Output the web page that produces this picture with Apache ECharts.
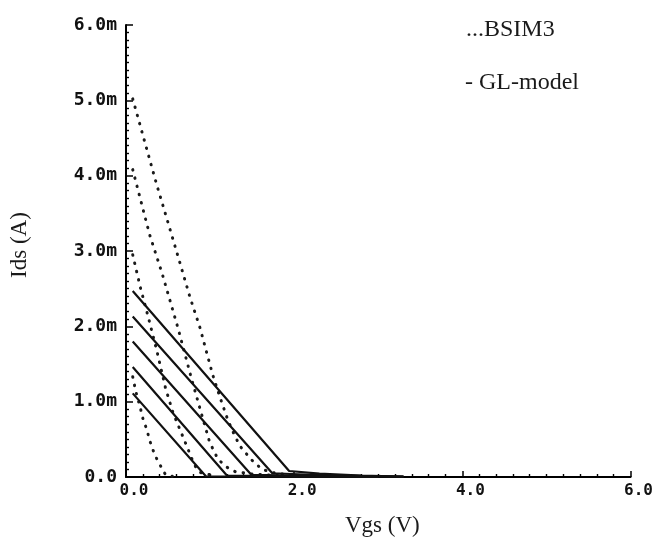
<!DOCTYPE html>
<html><head><meta charset="utf-8">
<script src="https://cdn.jsdelivr.net/npm/echarts@6/dist/echarts.min.js"></script>
<style>html,body{margin:0;padding:0;background:#fff}#c{width:656px;height:544px}</style>
</head><body><div id="c"></div>
<script>
// Vgs (V) vs Ids (mA)
const xAxisTicks = [0, 2, 4, 6];
const yAxisTicks = [0, 1, 2, 3, 4, 5, 6];
const legendLabels = ['...BSIM3', '- GL-model'];

// BSIM3 (dotted)
const bsim3A = [[0.08,5.02],[0.36,3.9],[0.56,3.15],[0.76,2.39],[0.88,1.98],[1.03,1.36],[1.12,1.05],[1.21,0.76],[1.30,0.53],[1.37,0.39],[1.49,0.23],[1.62,0.10],[1.78,0.05],[2.0,0.02]];
const bsim3B = [[0.08,4.08],[0.28,3.22],[0.43,2.70],[0.62,1.97],[0.78,1.30],[0.92,0.75],[0.99,0.48],[1.05,0.33],[1.10,0.23],[1.20,0.13],[1.30,0.07],[1.50,0.04],[1.8,0.02]];
const bsim3C = [[0.08,2.95],[0.17,2.52],[0.27,2.10],[0.37,1.66],[0.47,1.18],[0.56,0.85],[0.66,0.58],[0.73,0.39],[0.78,0.25],[0.83,0.13],[0.88,0.06],[1.0,0.03]];
const bsim3D = [[0.08,1.33],[0.12,1.12],[0.17,0.92],[0.20,0.78],[0.25,0.62],[0.28,0.49],[0.32,0.36],[0.37,0.23],[0.43,0.11],[0.47,0.03],[0.55,0.01]];

// GL-model (solid)
const glA = [[0.08,2.47],[1.94,0.08],[2.3,0.045],[2.8,0.02],[3.3,0.005]];
const glB = [[0.08,2.13],[1.74,0.05],[2.2,0.03],[2.8,0.015],[3.3,0.005]];
const glC = [[0.08,1.80],[1.49,0.03],[2.0,0.02],[2.8,0.01],[3.3,0.003]];
const glD = [[0.08,1.46],[1.20,0.02],[2.0,0.01],[3.0,0.003]];
const glE = [[0.08,1.11],[0.95,0.01],[2.0,0.005],[3.0,0.002]];

const bsim3Series = [bsim3A, bsim3B, bsim3C, bsim3D];
const glSeries = [glA, glB, glC, glD, glE];

const chart = echarts.init(document.getElementById('c'), null, {renderer: 'canvas'});
const series = [];
bsim3Series.forEach((d, i) => series.push({
  name: 'BSIM3', type: 'line', data: d, showSymbol: false, silent: true,
  lineStyle: {color: '#1a1a1a', width: 3, type: [0.5, 8], cap: 'round'}
}));
glSeries.forEach((d, i) => series.push({
  name: 'GL-model', type: 'line', data: d, showSymbol: false, silent: true,
  lineStyle: {color: '#111', width: 2.2}
}));

const monoLabel = {fontFamily: 'DejaVu Sans Mono', fontWeight: 'bold', color: '#111'};
chart.setOption({
  animation: false,
  backgroundColor: '#fff',
  grid: {left: 126, right: 23, top: 25, bottom: 67, containLabel: false},
  xAxis: {
    type: 'value', min: xAxisTicks[0], max: xAxisTicks[xAxisTicks.length - 1], interval: 2,
    name: 'Vgs (V)', nameLocation: 'middle', nameGap: 37,
    nameTextStyle: {fontFamily: 'Liberation Serif', fontSize: 23, color: '#1a1a1a', padding: [0, 0, 0, 8]},
    axisLine: {lineStyle: {color: '#000', width: 2}},
    axisTick: {inside: true, length: 6, lineStyle: {color: '#000', width: 1.5}},
    minorTick: {show: true, splitNumber: 10, length: 3, lineStyle: {color: '#000', width: 1.4}},
    splitLine: {show: false},
    axisLabel: Object.assign({fontSize: 16, margin: 6, padding: [0, 0, 0, 16],
      formatter: v => v.toFixed(1)}, monoLabel)
  },
  yAxis: {
    type: 'value', min: yAxisTicks[0], max: yAxisTicks[yAxisTicks.length - 1], interval: 1,
    name: 'Ids (A)', nameLocation: 'middle', nameGap: 95, nameRotate: 90,
    nameTextStyle: {fontFamily: 'Liberation Serif', fontSize: 23, color: '#1a1a1a', padding: [0, 0, 0, 12]},
    axisLine: {show: true, lineStyle: {color: '#000', width: 2}},
    axisTick: {show: true, inside: true, length: 7, lineStyle: {color: '#000', width: 1.5}},
    minorTick: {show: true, splitNumber: 10, length: 3, lineStyle: {color: '#000', width: 1.4}},
    splitLine: {show: false},
    axisLabel: Object.assign({fontSize: 18, margin: 9, padding: [0, 0, 8, 0],
      formatter: v => v === 0 ? '0.0' : v.toFixed(1) + 'm'}, monoLabel)
  },
  graphic: [
    {type: 'text', x: 466, y: 30, silent: true,
     style: {text: legendLabels[0], font: '24px "Liberation Serif"', fill: '#1a1a1a', verticalAlign: 'middle'}},
    {type: 'text', x: 465, y: 83, silent: true,
     style: {text: legendLabels[1], font: '24px "Liberation Serif"', fill: '#1a1a1a', verticalAlign: 'middle'}}
  ],
  series: series
});
</script>
</body></html>
